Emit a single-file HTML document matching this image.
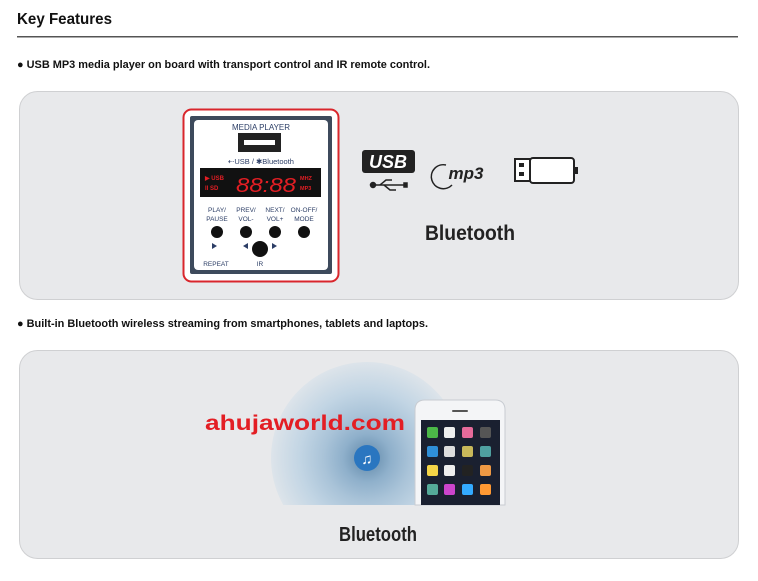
<!DOCTYPE html>
<html><head><meta charset="utf-8"><style>body{margin:0;background:#fff}svg{display:block}</style></head><body>
<svg width="758" height="581" viewBox="0 0 758 581" xmlns="http://www.w3.org/2000/svg" font-family="Liberation Sans, Arial, sans-serif">
<defs>
<radialGradient id="rg" cx="50%" cy="50%" r="50%">
<stop offset="0" stop-color="#5f87a8"/><stop offset="0.25" stop-color="#8fb0cb"/><stop offset="0.45" stop-color="#a9c3d8"/><stop offset="0.7" stop-color="#c2d5e4"/><stop offset="1" stop-color="#dde4ea"/>
</radialGradient>
<clipPath id="cp"><rect x="195" y="362" width="330" height="143"/></clipPath>
</defs>
<text x="17" y="24" font-size="16" font-weight="bold" fill="#111" textLength="95" lengthAdjust="spacingAndGlyphs">Key Features</text>
<rect x="17" y="36" width="721" height="1.5" fill="#555"/>
<text x="17" y="68" font-size="11" font-weight="bold" fill="#111" textLength="413" lengthAdjust="spacingAndGlyphs">● USB MP3 media player on board with transport control and IR remote control.</text>
<rect x="19.5" y="91.5" width="719" height="208" rx="18" fill="#e8e9eb" stroke="#cfd0d2"/>
<!-- media player -->
<rect x="183.5" y="109.5" width="155" height="172" rx="8" fill="#fff" stroke="#d9262c" stroke-width="2"/>
<rect x="190" y="116" width="142" height="158" rx="2" fill="#3d4a5c"/>
<rect x="194" y="120" width="134" height="150" rx="4" fill="#fff"/>
<text x="261" y="130" font-size="8" fill="#2c3e66" text-anchor="middle">MEDIA PLAYER</text>
<rect x="238" y="133" width="43" height="19" fill="#222"/>
<rect x="244" y="140" width="31" height="5" fill="#fff"/>
<text x="261" y="164" font-size="7.5" fill="#2c3e66" text-anchor="middle">⇠USB / ✱Bluetooth</text>
<rect x="200" y="168" width="121" height="29" fill="#111"/>
<text x="205" y="180" font-size="6" fill="#e31e24" font-weight="bold">▶ USB</text>
<text x="205" y="190" font-size="6" fill="#e31e24" font-weight="bold">II SD</text>
<text x="236" y="192" font-size="20" fill="#e31e24" font-style="italic" textLength="60" lengthAdjust="spacingAndGlyphs">88:88</text>
<text x="300" y="180" font-size="5.5" fill="#e31e24" font-weight="bold">MHZ</text>
<text x="300" y="190" font-size="5.5" fill="#e31e24" font-weight="bold">MP3</text>
<g font-size="6.5" fill="#2c3e66" text-anchor="middle">
<text x="217" y="212">PLAY/</text><text x="217" y="221">PAUSE</text>
<text x="246" y="212">PREV/</text><text x="246" y="221">VOL-</text>
<text x="275" y="212">NEXT/</text><text x="275" y="221">VOL+</text>
<text x="304" y="212">ON-OFF/</text><text x="304" y="221">MODE</text>
<text x="216" y="266">REPEAT</text><text x="260" y="266">IR</text>
</g>
<g fill="#111"><circle cx="217" cy="232" r="6"/><circle cx="246" cy="232" r="6"/><circle cx="275" cy="232" r="6"/><circle cx="304" cy="232" r="6"/><circle cx="260" cy="249" r="8"/></g>
<g fill="#2c3e66"><path d="M212 243l5 3-5 3z"/><path d="M248 243l-5 3 5 3z"/><path d="M272 243l5 3-5 3z"/></g>
<!-- USB logo -->
<rect x="362" y="150" width="53" height="23" rx="3" fill="#222"/>
<text x="388" y="168" font-size="18" font-weight="bold" font-style="italic" fill="#fff" text-anchor="middle">USB</text>
<g stroke="#222" stroke-width="1.5" fill="#222"><line x1="373" y1="185" x2="404" y2="185"/><circle cx="373" cy="185" r="2.5"/><path d="M380 185l6-5h6M384 185l6 5h6" fill="none"/><rect x="404" y="183" width="3" height="4"/></g>
<text x="466" y="179" font-size="17" font-weight="bold" font-style="italic" fill="#222" text-anchor="middle">mp3</text>
<path d="M446 165a12 12 0 1 0 6 20" fill="none" stroke="#222" stroke-width="1.5"/>
<rect x="515" y="159" width="15" height="22" fill="#fff" stroke="#222" stroke-width="2"/>
<rect x="519" y="163" width="5" height="4" fill="#222"/><rect x="519" y="172" width="5" height="4" fill="#222"/>
<rect x="530" y="158" width="44" height="25" rx="3" fill="#fff" stroke="#222" stroke-width="2"/>
<rect x="573" y="167" width="5" height="7" fill="#222"/>
<text x="470" y="240" font-size="21" font-weight="bold" fill="#222" text-anchor="middle" textLength="90" lengthAdjust="spacingAndGlyphs">Bluetooth</text>
<text x="17" y="327" font-size="11" font-weight="bold" fill="#111" textLength="411" lengthAdjust="spacingAndGlyphs">● Built-in Bluetooth wireless streaming from smartphones, tablets and laptops.</text>
<rect x="19.5" y="350.5" width="719" height="208" rx="18" fill="#e8e9eb" stroke="#cfd0d2"/>
<g clip-path="url(#cp)">
<circle cx="367" cy="458" r="96" fill="url(#rg)"/>
</g>
<circle cx="367" cy="458" r="13" fill="#2a76c0"/>
<text x="367" y="464" font-size="15" fill="#fff" text-anchor="middle">♫</text>
<text x="205" y="430" font-size="21" font-weight="bold" fill="#e31e24" textLength="200" lengthAdjust="spacingAndGlyphs">ahujaworld.com</text>
<!-- phone -->
<path d="M415 505V410q0-10 10-10h70q10 0 10 10v95z" fill="#f4f5f7" stroke="#c8ccd2"/>
<rect x="421" y="420" width="79" height="85" fill="#1a2030"/>
<g>
<rect x="427" y="427" width="11" height="11" rx="2" fill="#4cb848"/><rect x="444" y="427" width="11" height="11" rx="2" fill="#eee"/><rect x="462" y="427" width="11" height="11" rx="2" fill="#e56a9a"/><rect x="480" y="427" width="11" height="11" rx="2" fill="#555"/>
<rect x="427" y="446" width="11" height="11" rx="2" fill="#2f8fd8"/><rect x="444" y="446" width="11" height="11" rx="2" fill="#ddd"/><rect x="462" y="446" width="11" height="11" rx="2" fill="#c8b85a"/><rect x="480" y="446" width="11" height="11" rx="2" fill="#4fa0a0"/>
<rect x="427" y="465" width="11" height="11" rx="2" fill="#f5d547"/><rect x="444" y="465" width="11" height="11" rx="2" fill="#eee"/><rect x="462" y="465" width="11" height="11" rx="2" fill="#222"/><rect x="480" y="465" width="11" height="11" rx="2" fill="#e94"/>
<rect x="427" y="484" width="11" height="11" rx="2" fill="#5a9"/><rect x="444" y="484" width="11" height="11" rx="2" fill="#c4c"/><rect x="462" y="484" width="11" height="11" rx="2" fill="#3af"/><rect x="480" y="484" width="11" height="11" rx="2" fill="#f93"/>
</g>
<rect x="452" y="410" width="16" height="2" rx="1" fill="#555"/>
<text x="378" y="541" font-size="20" font-weight="bold" fill="#222" text-anchor="middle" textLength="78" lengthAdjust="spacingAndGlyphs">Bluetooth</text>
</svg>
</body></html>
